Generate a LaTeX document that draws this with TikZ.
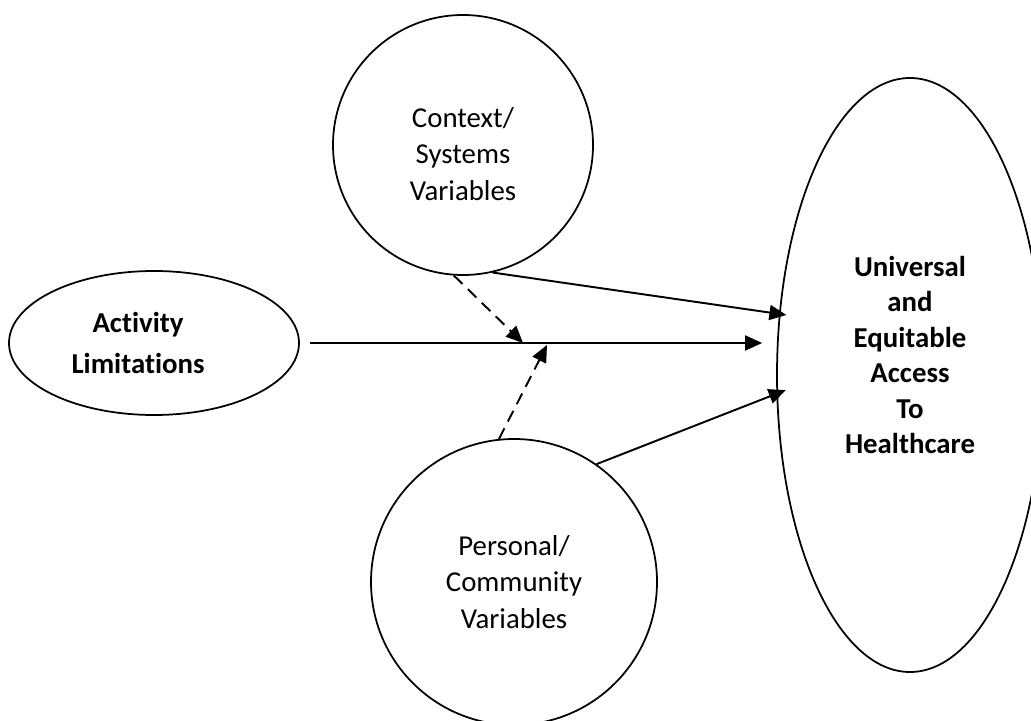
\documentclass[tikz,border=0pt]{standalone}
\usepackage{fontspec}
\setmainfont{Carlito}[Ligatures=NoCommon]
\usetikzlibrary{
    arrows.meta,
    shapes.geometric,
    calc
}

\begin{document}
\begin{tikzpicture}[
        every node/.style={align=center},
        blob/.style={draw, line width=1pt, inner sep=0pt},
        oval/.style={blob, ellipse},
        circ/.style={blob, circle},
        bold label/.style={font=\bfseries\fontsize{16.4}{20.2}\selectfont},
        plain label/.style={font=\fontsize{16.4}{20.6}\selectfont},
        link/.style={line width=1.1pt, -{Triangle[length=0.34cm, width=0.3cm]}},
        moderates/.style={link, dash pattern=on 0.24cm off 0.15cm}
    ]
        \useasboundingbox (0, 0) rectangle (20.62, 14.4);

        \node[oval, minimum width=5.8cm, minimum height=2.88cm] (act) at (3.08, 7.54) {};
        \node[font=\bfseries\fontsize{16.4}{22.8}\selectfont] (actT) at ($(act.center)+(-0.32, 0)$) {Activity\\Limitations};

        \node[circ, minimum size=5.2cm] (ctx) at (9.26, 11.5) {};
        \node[plain label] (ctxT) at ($(ctx.center)+(0, -0.18)$) {Context/\\Systems\\Variables};

        \node[circ, minimum size=5.72cm] (pcv) at (10.28, 2.76) {};
        \node[plain label] (pcvT) at (pcv.center) {Personal/\\Community\\Variables};

        \node[oval, minimum width=5.32cm, minimum height=11.88cm] (uac) at (18.2, 6.9) {};
        \node[bold label] (uacT) at ($(uac.center)+(0, 0.4)$) {Universal\\and\\Equitable\\Access\\To\\Healthcare};

        \coordinate (m1) at (10.46, 7.54);
        \coordinate (m2) at (10.94, 7.50);

        \draw[link, shorten <=0.2cm, shorten >=0.28cm] (act.east) -- (act.east -| uac.west);
        \draw[link, shorten >=-0.15cm] (ctx.-77) -- (uac.155);
        \draw[link, shorten >=-0.2cm] (pcv.55) -- (uac.188);
        \draw[moderates] (ctx.-94) -- (m1);
        \draw[moderates] (pcv.96) -- (m2);
\end{tikzpicture}
\end{document}
